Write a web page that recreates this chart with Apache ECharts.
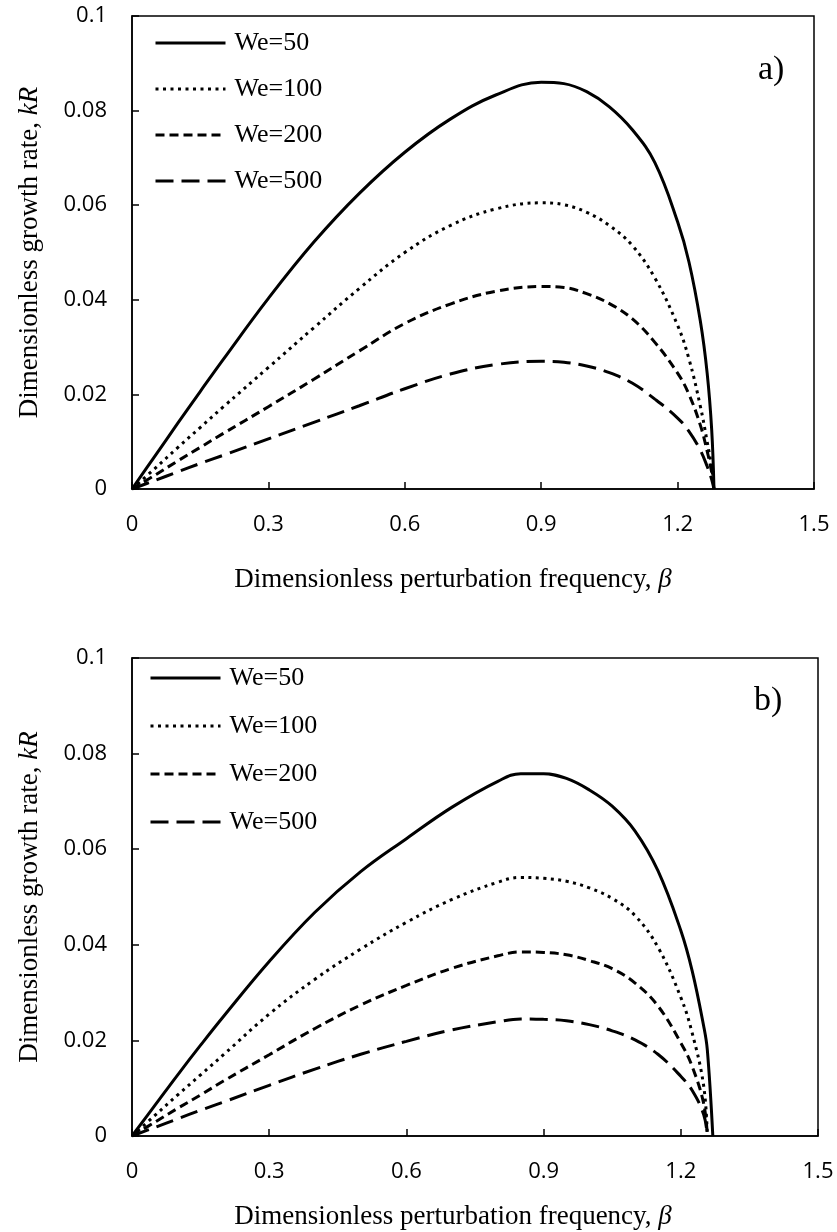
<!DOCTYPE html>
<html>
<head>
<meta charset="utf-8">
<script src="https://cdn.jsdelivr.net/npm/echarts@6/dist/echarts.min.js"></script>
<style>
html,body{margin:0;padding:0;background:#fff;}
#c{width:837px;height:1232px;}
</style>
</head>
<body>
<div id="c"></div>
<script>
// ---- data ----
var seriesNames = ['We=50', 'We=100', 'We=200', 'We=500'];
var xTickLabels = ['0', '0.3', '0.6', '0.9', '1.2', '1.5'];
var yTickLabels = ['0', '0.02', '0.04', '0.06', '0.08', '0.1'];

// panel a)
var betaA = [0, 0.05, 0.1, 0.15, 0.2, 0.3, 0.4, 0.5, 0.6, 0.7, 0.8, 0.9, 0.95, 1.0, 1.05, 1.1, 1.15, 1.2, 1.225, 1.25, 1.265, 1.275, 1.28];
var we50A  = [0, 0.0069, 0.0138, 0.0206, 0.0273, 0.0403, 0.0522, 0.0625, 0.0712, 0.0782, 0.0833, 0.0860, 0.0857, 0.0840, 0.0808, 0.0760, 0.0690, 0.0565, 0.0480, 0.0355, 0.0245, 0.0125, 0];
var we100A = [0, 0.0043, 0.0087, 0.0130, 0.0173, 0.0257, 0.0341, 0.0424, 0.0500, 0.0557, 0.0592, 0.0605, 0.0601, 0.0585, 0.0557, 0.0515, 0.0446, 0.0346, 0.0275, 0.0175, 0.0100, 0.0045, 0];
var we200A = [0, 0.0029, 0.0059, 0.0088, 0.0117, 0.0174, 0.0232, 0.0292, 0.0350, 0.0391, 0.0418, 0.0428, 0.0426, 0.0413, 0.0392, 0.0360, 0.0310, 0.0245, 0.0200, 0.0135, 0.0080, 0.0035, 0];
var we500A = [0, 0.0018, 0.0036, 0.0054, 0.0071, 0.0106, 0.0141, 0.0176, 0.0212, 0.0243, 0.0263, 0.0270, 0.0268, 0.0260, 0.0246, 0.0224, 0.0190, 0.0150, 0.0122, 0.0082, 0.0048, 0.0020, 0];

// panel b)
var betaB = [0, 0.05, 0.1, 0.15, 0.2, 0.3, 0.4, 0.5, 0.6, 0.7, 0.8, 0.85, 0.9, 0.95, 1.0, 1.05, 1.1, 1.15, 1.2, 1.225, 1.25, 1.258, 1.27];
var we50B  = [0, 0.0064, 0.0128, 0.0190, 0.0250, 0.0365, 0.0468, 0.0553, 0.0622, 0.0688, 0.0742, 0.0758, 0.0758, 0.0748, 0.0724, 0.0690, 0.0638, 0.0555, 0.0430, 0.0345, 0.0230, 0.0180, 0];
var we100B = [0, 0.0043, 0.0086, 0.0128, 0.0170, 0.0255, 0.0328, 0.0391, 0.0447, 0.0495, 0.0531, 0.0541, 0.0539, 0.0533, 0.0519, 0.0497, 0.0461, 0.0395, 0.0290, 0.0215, 0.0105, 0, null];
var we200B = [0, 0.0029, 0.0058, 0.0086, 0.0115, 0.0170, 0.0225, 0.0274, 0.0315, 0.0351, 0.0377, 0.0385, 0.0384, 0.0379, 0.0367, 0.0350, 0.0320, 0.0272, 0.0195, 0.0145, 0.0068, 0, null];
var we500B = [0, 0.0018, 0.0036, 0.0054, 0.0071, 0.0106, 0.0140, 0.0171, 0.0198, 0.0222, 0.0239, 0.0245, 0.0244, 0.0241, 0.0233, 0.0220, 0.0201, 0.0171, 0.0125, 0.0095, 0.0045, 0, null];

// ---- styles ----
var lineStyles = [
  {color: '#000', width: 3, type: 'solid'},
  {color: '#000', width: 3, type: [3, 4.5]},
  {color: '#000', width: 3, type: [9, 5]},
  {color: '#000', width: 3, type: [18, 8]}
];
var serif = 'Liberation Serif';
var sans = 'Open Sans';

function pairs(xs, ys) {
  var out = [];
  for (var i = 0; i < xs.length; i++) { if (ys[i] !== null) out.push([xs[i], ys[i]]); }
  return out;
}

function xAxisCfg(gridIndex, nameGap, padRight) {
  return {
    type: 'value', gridIndex: gridIndex, min: 0, max: 1.5, interval: 0.3,
    name: 'Dimensionless perturbation frequency, {i|β}',
    nameLocation: 'middle', nameGap: nameGap,
    nameTextStyle: {fontFamily: serif, fontSize: 27, color: '#000', padding: [0, padRight, 0, 0],
      rich: {i: {fontFamily: serif, fontSize: 27, fontStyle: 'italic', color: '#000'}}},
    axisLine: {show: true, onZero: false, lineStyle: {color: '#000', width: 1.5}},
    axisTick: {show: true, inside: true, length: 7, lineStyle: {color: '#000', width: 1.5}},
    axisLabel: {margin: 25, fontFamily: sans, fontSize: 22, color: '#000',
      formatter: function (v) { return xTickLabels[Math.round(v / 0.3)]; }},
    splitLine: {show: false}
  };
}
function yAxisCfg(gridIndex) {
  return {
    type: 'value', gridIndex: gridIndex, min: 0, max: 0.1, interval: 0.02,
    name: 'Dimensionless growth rate, {i|kR}',
    nameLocation: 'middle', nameGap: 89, nameRotate: 90,
    nameTextStyle: {fontFamily: serif, fontSize: 27, color: '#000',
      rich: {i: {fontFamily: serif, fontSize: 27, fontStyle: 'italic', color: '#000'}}},
    axisLine: {show: true, onZero: false, lineStyle: {color: '#000', width: 1.5}},
    axisTick: {show: true, inside: true, length: 7, lineStyle: {color: '#000', width: 1.5}},
    axisLabel: {margin: 25, fontFamily: sans, fontSize: 22, color: '#000',
      formatter: function (v) { return yTickLabels[Math.round(v / 0.02)]; }},
    splitLine: {show: false}
  };
}
function legendCfg(left, top, gap) {
  return {
    data: seriesNames, orient: 'vertical', left: left, top: top, padding: 0,
    itemWidth: 70, itemHeight: 26, itemGap: gap, selectedMode: false,
    itemStyle: {opacity: 0, borderWidth: 0},
    lineStyle: {width: 3, color: '#000'},
    textStyle: {fontFamily: serif, fontSize: 26, color: '#000', padding: [0, 0, 0, 4]}
  };
}

var series = [];
var setsA = [we50A, we100A, we200A, we500A];
var setsB = [we50B, we100B, we200B, we500B];
for (var k = 0; k < 4; k++) {
  series.push({name: seriesNames[k], type: 'line', xAxisIndex: 0, yAxisIndex: 0,
    data: pairs(betaA, setsA[k]), symbol: 'none', showSymbol: false,
    smooth: 0.4, lineStyle: lineStyles[k], itemStyle: {color: '#000'}, silent: true});
}
for (var k2 = 0; k2 < 4; k2++) {
  series.push({name: seriesNames[k2], type: 'line', xAxisIndex: 1, yAxisIndex: 1,
    data: pairs(betaB, setsB[k2]), symbol: 'none', showSymbol: false,
    smooth: 0.4, lineStyle: lineStyles[k2], itemStyle: {color: '#000'}, silent: true});
}

var chart = echarts.init(document.getElementById('c'), null, {renderer: 'canvas'});
chart.setOption({
  animation: false,
  backgroundColor: '#fff',
  grid: [
    {left: 132, top: 16, width: 682, height: 473, show: true, borderColor: '#000', borderWidth: 1.5, containLabel: false},
    {left: 132, top: 658, width: 686, height: 478, show: true, borderColor: '#000', borderWidth: 1.5, containLabel: false}
  ],
  xAxis: [xAxisCfg(0, 77, 40), xAxisCfg(1, 67, 44)],
  yAxis: [yAxisCfg(0), yAxisCfg(1)],
  legend: [legendCfg(154, 30, 20), legendCfg(149, 665, 22)],
  graphic: [
    {type: 'text', left: 758, top: 53, style: {text: 'a)', font: '34px "Liberation Serif"', fill: '#000'}},
    {type: 'text', left: 754, top: 684, style: {text: 'b)', font: '34px "Liberation Serif"', fill: '#000'}}
  ],
  series: series
});
</script>
</body>
</html>
